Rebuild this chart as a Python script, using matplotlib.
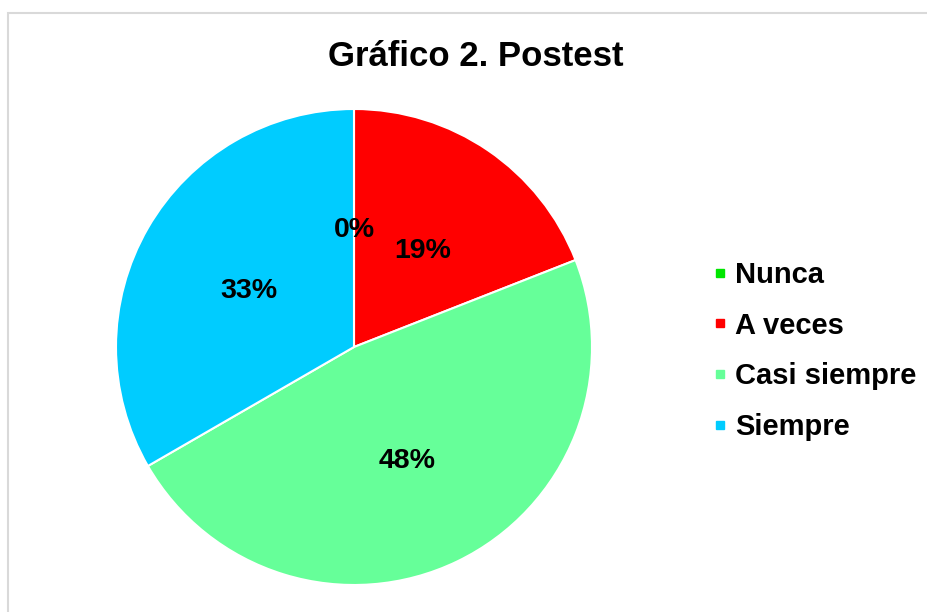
import matplotlib
matplotlib.use("Agg")
import matplotlib.pyplot as plt
from matplotlib.lines import Line2D
from matplotlib.patches import Rectangle

plt.rcParams['font.family'] = ['Liberation Sans', 'DejaVu Sans']

categories = ["Nunca", "A veces", "Casi siempre", "Siempre"]
values = [0, 4, 10, 7]
colors = ["#00E600", "#FF0000", "#66FF99", "#00CCFF"]
title = "Gráfico 2. Postest"

W, H = 928, 612
fig = plt.figure(figsize=(W / 100, H / 100), dpi=100)

# chart-area border
fig.patches.append(Rectangle((8 / W, -0.05), 1.1, 1 - 13 / H + 0.05,
                             transform=fig.transFigure, fill=False,
                             edgecolor="#D9D9D9", linewidth=1.5))

cx, cy, r = 354, 347, 238
ax = fig.add_axes([(cx - r) / W, (H - cy - r) / H, 2 * r / W, 2 * r / H])
wedges, texts, autotexts = ax.pie(
    values, colors=colors, startangle=90, counterclock=False,
    autopct='%.0f%%', pctdistance=0.51,
    wedgeprops=dict(edgecolor="white", linewidth=1.5),
    textprops=dict(fontsize=20.5, fontweight="bold", color="black"))
for t in autotexts:
    x, y = t.get_position()
    t.set_position((x, y - 0.02))
ax.set_aspect("equal")
ax.set_xlim(-1, 1)
ax.set_ylim(-1, 1)

fig.text(476 / W, 1 - 57 / H, title, ha="center", va="center",
         fontsize=25, fontweight="bold")

handles = [Line2D([], [], marker="s", linestyle="none", markersize=6,
                  markerfacecolor=c, markeredgecolor=c) for c in colors]
fig.legend(handles, categories, loc="center left",
           bbox_to_anchor=(701 / W, 1 - 351 / H), frameon=False,
           prop=dict(size=21, weight="bold"), handlelength=0.5,
           handletextpad=0.28, labelspacing=0.78, borderaxespad=0)

fig.savefig("out.png", dpi=100, facecolor="white")
